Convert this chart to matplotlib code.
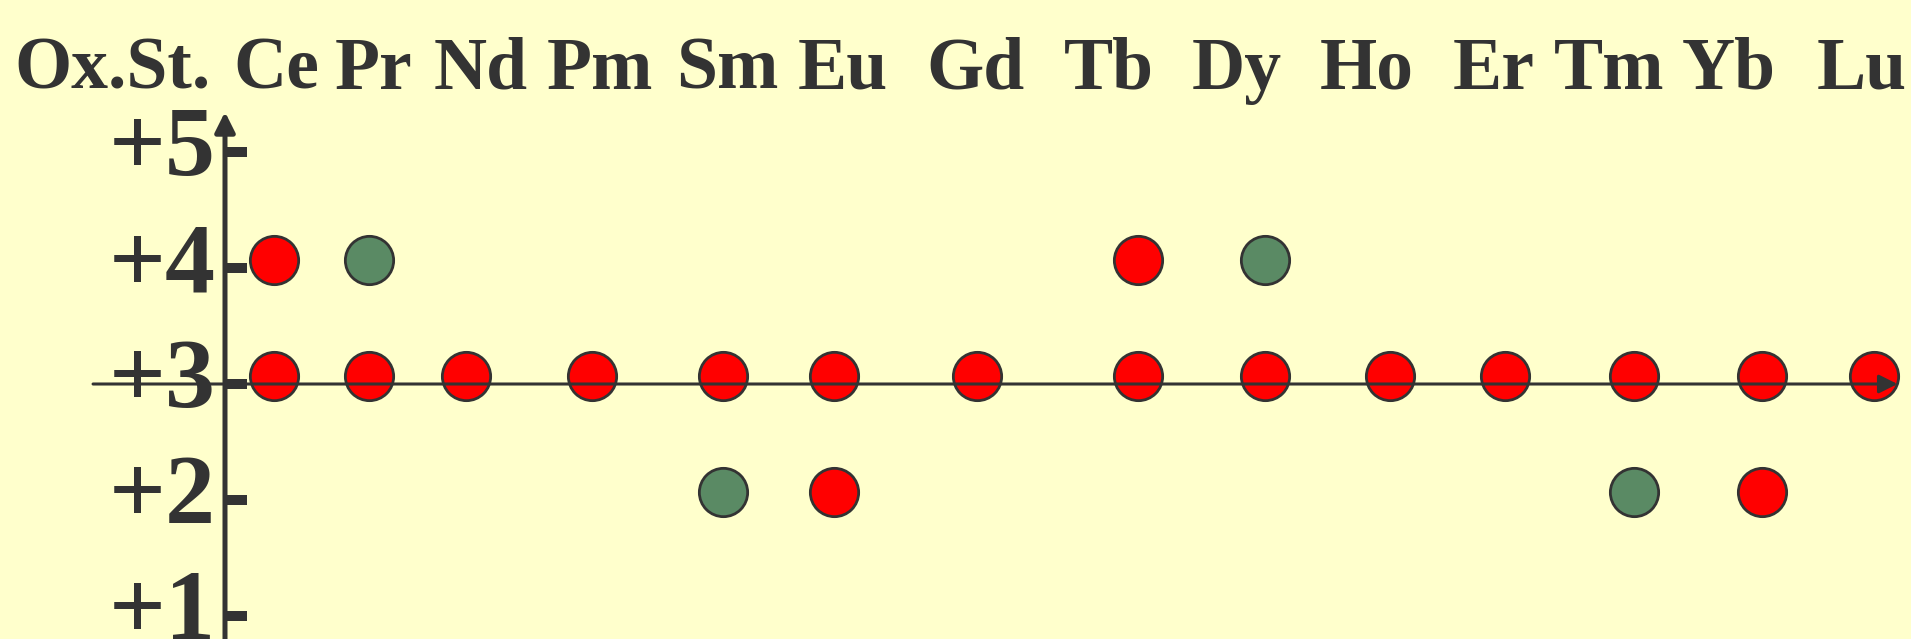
import matplotlib
matplotlib.use("Agg")
import matplotlib.pyplot as plt
import matplotlib.transforms as mtransforms

# lanthanides and their oxidation states (+3 for all of them)
elements = ['Ce', 'Pr', 'Nd', 'Pm', 'Sm', 'Eu', 'Gd', 'Tb', 'Dy', 'Ho', 'Er', 'Tm', 'Yb', 'Lu']
main_state = 3
# extra states, red = common, green = less common
red_elems = ['Ce', 'Tb', 'Eu', 'Yb']
red_states = [4, 4, 2, 2]
green_elems = ['Pr', 'Dy', 'Sm', 'Tm']
green_states = [4, 4, 2, 2]
ytick_vals = [1, 2, 3, 4, 5]
ytick_labels = ['+1', '+2', '+3', '+4', '+5']
corner_label = 'Ox.St.'

# layout: column spacing of the slide (not even), circles and header text
col_x = [0, 0.77, 1.56, 2.58, 3.65, 4.55, 5.71, 7.02, 8.05, 9.07, 10.0, 11.05, 12.09, 13.0]
head_x = [0.02, 0.81, 1.68, 2.65, 3.68, 4.62, 5.70, 6.78, 7.82, 8.88, 9.91, 10.85, 11.82, 12.90]

bg = '#FFFFCC'
ink = '#333333'
red = '#FF0000'
green = '#5A8A64'
font = 'Liberation Serif'

fig = plt.figure(figsize=(19.11, 6.39), dpi=100, facecolor=bg)
ax = fig.add_axes([0, 0, 1, 1])
ax.set_facecolor(bg)
ax.axis('off')
# 123.08 px per column unit, 116 px per ox. state
ax.set_xlim(-2.226, 13.3)
ax.set_ylim(0.802, 6.31)

pos = dict(zip(elements, col_x))

# circles sit a little above the ticks
circ_tr = mtransforms.offset_copy(ax.transData, fig=fig, x=0, y=8, units='dots')
ms = 1210
ax.scatter(col_x, [main_state] * len(elements), s=ms, c=red, edgecolors=ink,
           linewidths=2, transform=circ_tr, zorder=3)
ax.scatter([pos[e] for e in red_elems], red_states, s=ms, c=red, edgecolors=ink,
           linewidths=2, transform=circ_tr, zorder=3)
ax.scatter([pos[e] for e in green_elems], green_states, s=ms, c=green, edgecolors=ink,
           linewidths=2, transform=circ_tr, zorder=3)

# axes with arrows
y_axis_x = -0.398
ax.annotate('', xy=(13.19, main_state), xytext=(-1.47, main_state),
            arrowprops=dict(arrowstyle='-|>,head_length=0.4,head_width=0.2', lw=2.2,
                            color=ink, mutation_scale=28, shrinkA=0, shrinkB=0),
            zorder=6)
ax.annotate('', xy=(y_axis_x, 5.345), xytext=(y_axis_x, 0.6),
            arrowprops=dict(arrowstyle='-|>,head_length=0.4,head_width=0.2', lw=3.6,
                            color=ink, mutation_scale=30, shrinkA=0, shrinkB=0),
            zorder=6)
ax.hlines(ytick_vals, y_axis_x, -0.219, colors=ink, linewidth=7.2, zorder=6)

for v, lab in zip(ytick_vals, ytick_labels):
    ax.text(-0.47, v - 0.2, lab, ha='right', va='baseline', fontsize=72,
            fontweight='bold', family=font, color=ink, zorder=4)

# header row
hsize = 53
ax.text(-2.11, 5.543, corner_label, ha='left', va='baseline', fontsize=hsize,
        fontweight='bold', family=font, color=ink)
for e, hx in zip(elements, head_x):
    ax.text(hx, 5.543, e, ha='center', va='baseline', fontsize=hsize,
            fontweight='bold', family=font, color=ink)

fig.savefig('out.png', dpi=100, facecolor=bg)
